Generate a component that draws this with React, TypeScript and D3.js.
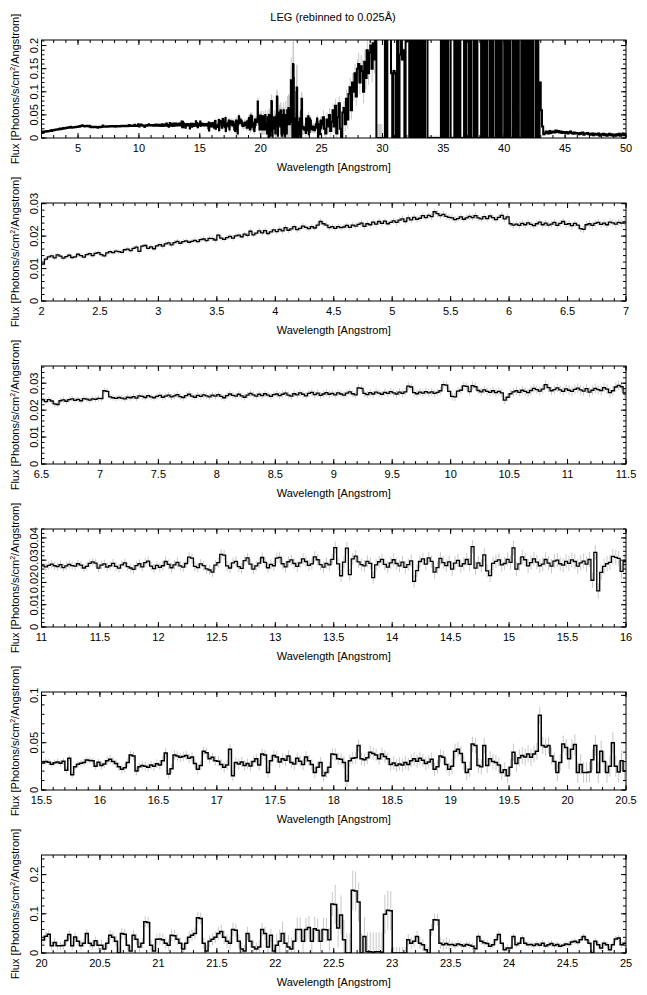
import React from 'react';
import * as d3 from 'd3';

// flux in 1e-3 photons/s/cm^2/Angstrom, 0.025 A bins
const flux2to7 = [
  11.4, 12.9, 13.6, 13.9, 13.3, 14.2, 13.8, 13.2, 13.7, 14.1, 13.4, 13.6, 14.4, 14.0, 13.5, 14.3, 14.6, 14.0, 14.7, 14.9,
  14.3, 13.9, 14.8, 15.2, 14.9, 15.4, 15.2, 15.0, 15.8, 16.0, 15.5, 16.2, 16.6, 15.3, 16.9, 17.1, 16.2, 16.7, 16.1, 17.0,
  17.4, 16.9, 17.6, 17.9, 17.3, 18.0, 18.4, 17.8, 18.3, 18.5, 18.1, 18.4, 18.7, 18.3, 18.9, 19.1, 18.6, 19.3, 19.2, 18.8,
  20.3, 19.4, 19.0, 19.5, 19.9, 19.4, 20.1, 20.3, 19.8, 20.6, 20.2, 21.5, 20.4, 20.9, 21.6, 21.0, 21.7, 20.8, 21.3, 21.9,
  21.4, 22.1, 21.6, 22.6, 21.8, 22.2, 22.9, 22.0, 22.4, 23.1, 22.7, 22.3, 22.9, 22.5, 23.4, 24.5, 23.8, 23.4, 22.6, 22.9,
  22.4, 22.9, 22.6, 22.8, 23.3, 22.7, 23.4, 23.1, 23.6, 24.0, 23.0, 23.8, 23.5, 24.3, 23.7, 24.5, 23.9, 24.6, 23.8, 24.2,
  24.7, 24.2, 24.9, 25.3, 24.5, 25.6, 25.0, 25.8, 25.2, 25.5, 26.3, 25.7, 26.4, 26.0, 27.5, 26.9, 26.3, 26.7, 26.1, 25.8,
  25.6, 25.1, 25.4, 25.9, 25.2, 25.6, 26.1, 25.7, 26.3, 25.6, 25.3, 26.0, 25.4, 26.2, 25.7, 25.1, 25.8, 26.4, 25.3, 25.9,
  23.8, 23.4, 23.7, 23.3, 23.9, 23.5, 24.1, 23.6, 23.2, 23.8, 24.3, 23.5, 24.0, 23.4, 23.7, 24.2, 23.3, 23.9, 24.5, 23.6,
  23.8, 23.2, 23.9, 23.4, 22.3, 22.1, 23.5, 23.8, 23.3, 23.9, 24.2, 23.6, 24.0, 23.5, 24.3, 24.1, 23.7, 24.2, 24.0, 24.4,
];
const flux7to11 = [
  24.3, 27.2, 27.0, 24.9, 24.6, 24.4, 24.7, 24.5, 24.2, 24.8, 24.6, 25.0, 24.5, 25.3, 25.1, 24.7, 25.4, 24.9, 24.6, 25.1,
  25.5, 24.8, 25.2, 25.6, 24.9, 25.3, 25.8, 25.0, 24.7, 25.4, 25.9, 25.2, 24.8, 25.5, 25.1, 25.7, 25.3, 24.9, 25.6, 25.2,
  25.8, 25.1, 24.6, 25.4, 26.0, 25.5, 25.2, 25.9, 25.3, 24.8, 25.6, 26.2, 25.7, 25.2, 25.9, 25.4, 26.1, 25.6, 25.1, 25.8,
  26.0, 25.4, 25.9, 26.3, 25.6, 25.2, 26.1, 25.7, 26.4, 25.9, 25.3, 26.2, 26.6, 25.8, 26.3, 25.5, 26.0, 26.5, 25.9, 26.2,
  25.7, 26.4, 26.0, 25.6, 26.3, 26.8, 26.1, 25.7, 28.3, 28.1, 26.2, 25.8, 26.5, 26.0, 26.7, 26.3, 25.9, 26.6, 26.2, 26.9,
  26.4, 26.0, 26.7, 26.2, 26.8, 28.9, 28.6, 26.5, 26.1, 26.7, 26.3, 26.9, 26.4, 26.8, 26.2, 26.6, 27.2, 29.5, 29.3, 27.0,
  25.1, 24.9, 27.1, 27.4, 29.0, 28.8, 26.9, 29.1, 28.7, 27.3, 26.8, 27.5, 27.0, 26.6, 27.2, 26.5, 27.0, 26.4, 23.7, 24.8,
  26.1, 26.8, 27.2, 26.6, 27.4, 27.0, 26.5, 27.3, 28.1, 27.6, 27.1, 27.8, 29.5, 28.4, 27.2, 27.6, 28.3, 27.5, 27.0, 27.9,
  27.4, 27.0, 27.7, 28.2, 27.5, 27.1, 28.0, 26.7, 27.4, 28.1, 27.6, 27.3, 28.4, 27.8, 26.5, 27.2, 28.6, 29.2, 28.7, 26.4,
];
const flux11to16 = [
  27.8, 28.3, 26.9, 27.5, 28.6, 27.2, 26.4, 27.9, 28.8, 27.1, 26.5, 25.9, 27.6, 28.4, 27.0, 28.9, 29.6, 27.3, 26.2, 27.7,
  26.8, 27.5, 29.4, 28.1, 26.6, 27.9, 29.0, 27.4, 26.9, 28.5, 31.4, 30.9, 27.2, 26.7, 28.3, 27.6, 26.1, 25.6, 24.6, 27.8,
  28.9, 32.6, 32.3, 27.4, 26.5, 28.8, 29.5, 27.1, 26.3, 29.8, 31.0, 28.2, 26.0, 27.4, 28.7, 31.2, 29.0, 26.6, 28.1, 27.5,
  30.9, 31.3, 28.4, 27.0, 29.3, 30.1, 28.5, 27.2, 28.8, 30.6, 29.4, 27.7, 28.3, 31.5, 30.2, 28.0, 26.9, 28.6, 27.9, 30.4,
  35.6, 28.3, 23.0, 29.1, 35.4, 23.5, 30.6, 31.8, 29.2, 28.0, 27.4, 29.5, 28.6, 22.2, 27.9, 29.3, 30.4, 28.1, 26.9, 28.8,
  30.2, 28.5, 27.4, 29.1, 26.8, 28.0, 29.7, 20.5, 25.3, 29.4, 30.6, 28.2, 31.0, 29.5, 24.6, 26.7, 30.8, 28.9, 27.6, 29.2,
  26.0, 28.7, 29.9, 27.3, 28.4, 30.3, 28.1, 36.1, 26.4, 28.8, 27.5, 32.4, 25.2, 23.1, 28.6, 29.5, 30.1, 27.9, 28.5, 30.4,
  29.0, 35.5, 26.0, 28.3, 31.5, 30.2, 27.4, 28.9, 30.6, 29.1, 27.5, 28.2, 30.3, 28.7, 27.3, 29.6, 30.0, 28.4, 27.8, 29.5,
  28.6, 30.1, 29.4, 27.3, 28.8, 29.6, 28.2, 30.3, 21.0, 33.5, 16.2, 24.5, 27.2, 28.4, 29.0, 31.7, 31.3, 30.8, 25.0, 29.4,
];
const flux16to20 = [
  26.0, 27.5, 31.0, 32.5, 30.2, 28.0, 24.5, 22.0, 23.5, 29.0, 37.0, 36.0, 20.0, 24.5, 26.0, 25.2, 24.0, 26.5, 25.0, 27.8,
  26.5, 31.0, 39.0, 17.0, 22.5, 37.0, 36.0, 34.5, 35.5, 36.5, 33.5, 35.0, 28.0, 22.0, 26.0, 41.0, 39.5, 33.0, 34.5, 31.0,
  30.5, 27.0, 24.0, 26.5, 43.0, 15.0, 29.0, 27.5, 29.5, 26.0, 28.0, 25.5, 30.0, 33.0, 26.5, 38.0, 37.0, 18.5, 31.0, 36.5,
  35.0, 29.5, 33.0, 31.5, 36.0, 29.0, 27.5, 33.5, 30.5, 27.0, 35.0, 31.0, 27.0, 18.5, 24.0, 29.0, 15.0, 18.5, 24.0, 38.0,
  37.5, 33.0, 32.5, 29.0, 9.6, 31.0, 33.5, 34.0, 47.0, 33.0, 32.0, 34.0, 40.0, 38.5, 37.0, 33.0, 38.0, 35.5, 33.0, 27.0,
  28.5, 26.0, 27.5, 26.5, 29.0, 27.0, 31.0, 33.0, 30.5, 33.5, 31.5, 28.0, 29.5, 32.5, 22.0, 24.5, 36.0, 34.5, 27.0, 22.0,
  25.0, 41.0, 43.0, 38.5, 29.0, 18.5, 22.0, 48.5, 47.0, 26.0, 24.5, 47.0, 26.0, 33.0, 30.0, 29.0, 26.5, 18.5, 21.5, 15.0,
  24.0, 40.0, 28.0, 34.0, 36.5, 35.0, 38.0, 34.5, 38.0, 41.0, 79.0, 47.0, 45.5, 47.0, 36.0, 30.0, 18.5, 29.0, 48.5, 45.0,
  33.0, 43.0, 48.0, 18.5, 27.0, 18.5, 18.5, 19.0, 32.0, 47.0, 18.5, 41.0, 30.0, 18.5, 25.0, 50.0, 25.0, 19.0, 31.0, 20.0,
];
const flux20to25 = [
  20, 10, 25, 45, 40, 30, 0, 50, 48, 20, 5, 45, 35, 15, 25, 80, 78, 20, 5, 35,
  36, 34, 25, 20, 45, 44, 35, 25, 10, 25, 40, 45, 50, 90, 88, 25, 5, 30, 35, 40,
  50, 55, 40, 30, 25, 60, 58, 30, 10, 5, 50, 30, 15, 10, 15, 60, 50, 15, 45, 5,
  20, 30, 50, 25, 15, 10, 30, 60, 60, 30, 60, 65, 30, 62, 58, 30, 60, 59, 34, 125,
  124, 64, 97, 34, 0, 0, 160, 158, 130, 0, 42, 3, 3, 2, 3, 3, 2, 99, 109, 108,
  0, 0, 0, 0, 0, 34, 25, 30, 42, 25, 21, 8, 0, 59, 85, 84, 25, 21, 24, 21,
  22, 19, 23, 21, 18, 22, 20, 17, 11, 42, 30, 26, 24, 17, 21, 34, 47, 25, 8, 13,
  13, 42, 21, 25, 38, 25, 21, 22, 19, 23, 20, 25, 18, 21, 24, 19, 22, 17, 20, 23,
  22, 28, 30, 27, 34, 42, 34, 25, 0, 30, 21, 13, 25, 21, 8, 21, 36, 38, 21, 25,
];
// long-wavelength part, 0.1 A bins (only shown in the overview)
const flux25to50 = [
  30, 45, 20, 10, 40, 25, 50, 15, 35, 60,
  25, 70, 10, 45, 75, 20, 0, 55, 65, 30,
  85, 40, 95, 110, 60, 120, 100, 140, 90, 150,
  160, 120, 155, 145, 100, 165, 130, 190, 140, 185,
  200, 150, 205, 170, 400, 0, 0, 0, 0, 0,
  0, 0, 400, 0, 400, 300, 400, 140, 0, 145,
  140, 0, 400, 0, 180, 400, 170, 190, 0, 400,
  210, 400, 0, 400, 0, 400, 0, 400, 0, 400,
  0, 400, 0, 400, 0, 400, 400, 0, 0, 0,
  0, 0, 0, 0, 0, 0, 0, 0, 400, 0,
  400, 0, 400, 0, 400, 400, 0, 0, 0, 400,
  0, 400, 0, 400, 0, 0, 0, 400, 0, 400,
  400, 0, 400, 0, 0, 400, 0, 400, 0, 0,
  0, 400, 0, 400, 0, 400, 0, 0, 400, 0,
  400, 0, 0, 400, 0, 400, 0, 400, 0, 0,
  400, 0, 400, 0, 400, 0, 0, 400, 0, 400,
  0, 400, 0, 0, 400, 0, 400, 0, 400, 0,
  400, 0, 400, 0, 400, 400, 0, 400, 0, 120,
  60, 25, 8, 10, 14, 12, 10, 15, 11, 13,
  14, 12, 16, 13, 15, 12, 14, 11, 13, 12,
  11, 13, 10, 12, 14, 11, 9, 12, 10, 11,
  10, 8, 11, 9, 12, 7, 10, 9, 11, 8,
  9, 7, 10, 6, 9, 8, 7, 10, 5, 8,
  7, 9, 6, 8, 5, 7, 9, 6, 8, 5,
  7, 5, 8, 6, 9, 5, 7, 10, 6, 8,
];
// error per 0.5 A segment (2-25 A) and per 1 A segment (25-50 A), 1e-3 units
const err2to25 = [
  0.7, 0.7, 0.8, 0.8, 0.9, 0.9, 1.0, 1.0, 1.0, 1.1, 1.1, 1.2,
  1.2, 1.3, 1.3, 1.4, 1.5, 1.6, 1.8, 2.0, 2.2, 2.3,
  2.5, 2.7, 2.8, 3.0, 3.2, 3.4, 4.5, 5, 5.5, 6,
  6.5, 7, 8, 9, 11, 14, 15, 17, 30, 50, 15, 9, 8, 8,
];
const err25to50 = [15, 15, 20, 25, 30, 5, 5, 5, 5, 5, 5, 5, 5, 5, 5, 5, 5, 5, 4, 3, 3, 3, 3, 3, 3];

const panels = [
  { lo: 2, hi: 50, yMax: 0.212, xMajor: 5, xMinor: 1, yMajor: 0.05, yMinor: 0.01, top: 40, bottom: 138 },
  { lo: 2, hi: 7, yMax: 0.0302, xMajor: 0.5, xMinor: 0.1, yMajor: 0.01, yMinor: 0.002, top: 203, bottom: 301 },
  { lo: 6.5, hi: 11.5, yMax: 0.0364, xMajor: 0.5, xMinor: 0.1, yMajor: 0.01, yMinor: 0.002, top: 366, bottom: 464 },
  { lo: 11, hi: 16, yMax: 0.044, xMajor: 0.5, xMinor: 0.1, yMajor: 0.01, yMinor: 0.002, top: 529, bottom: 627 },
  { lo: 15.5, hi: 20.5, yMax: 0.1036, xMajor: 0.5, xMinor: 0.1, yMajor: 0.05, yMinor: 0.01, top: 692, bottom: 790 },
  { lo: 20, hi: 25, yMax: 0.25, xMajor: 0.5, xMinor: 0.1, yMajor: 0.1, yMinor: 0.02, top: 855, bottom: 953 },
];

const LEFT = 41.5;
const RIGHT = 626;
const FONT = 'Liberation Sans, Arial, Helvetica, sans-serif';

type Bin = { lo: number; hi: number; y: number; e: number };

const inner = [...flux2to7, ...flux7to11, ...flux11to16, ...flux16to20, ...flux20to25];
const bins: Bin[] = [];
inner.forEach((v, i) =>
  bins.push({ lo: (80 + i) / 40, hi: (81 + i) / 40, y: v / 1000, e: err2to25[Math.floor(i / 20)] / 1000 })
);
flux25to50.forEach((v, i) =>
  bins.push({ lo: (250 + i) / 10, hi: (251 + i) / 10, y: v / 1000, e: err25to50[Math.floor(i / 10)] / 1000 })
);

const tickVals = (lo: number, hi: number, step: number) => {
  const out: number[] = [];
  for (let k = Math.ceil(lo / step - 1e-6); k <= Math.floor(hi / step + 1e-6); k++) out.push(+(k * step).toFixed(6));
  return out;
};
const fmt = (v: number) => String(+v.toFixed(6));

function Panel({ p, idx }: { p: (typeof panels)[number]; idx: number }) {
  const x = d3.scaleLinear().domain([p.lo, p.hi]).range([LEFT, RIGHT]);
  const y = d3.scaleLinear().domain([0, p.yMax]).range([p.bottom, p.top]);
  const sel = bins.filter((b) => b.lo >= p.lo - 1e-6 && b.hi <= p.hi + 1e-6);
  const pts: [number, number][] = [];
  sel.forEach((b) => {
    pts.push([b.lo, b.y], [b.hi, b.y]);
  });
  const line = d3
    .line<[number, number]>()
    .x((d) => x(d[0]))
    .y((d) => y(d[1]));
  const clipId = `clip${idx}`;
  const xMaj = tickVals(p.lo, p.hi, p.xMajor);
  const xMin = tickVals(p.lo, p.hi, p.xMinor);
  const yMaj = tickVals(0, p.yMax, p.yMajor);
  const yMin = tickVals(0, p.yMax, p.yMinor);
  const M = 5;
  const m = 3;
  const midY = (p.top + p.bottom) / 2;
  return (
    <g>
      <defs>
        <clipPath id={clipId}>
          <rect x={LEFT} y={p.top} width={RIGHT - LEFT} height={p.bottom - p.top} />
        </clipPath>
      </defs>
      <g clipPath={`url(#${clipId})`}>
        <g stroke="#c8c8c8" strokeWidth={1}>
          {sel.map((b, i) => {
            const cx = x((b.lo + b.hi) / 2);
            return <line key={i} x1={cx} x2={cx} y1={y(b.y - b.e)} y2={y(b.y + b.e)} />;
          })}
        </g>
        <path
          d={line(pts) ?? ''}
          fill="none"
          stroke="#000"
          strokeWidth={idx === 0 ? 2 : idx >= 4 ? 1.5 : 1.3}
          strokeLinejoin="miter"
        />
      </g>
      <g stroke="#000" strokeWidth={1}>
        {xMin.map((v) => (
          <g key={`xm${v}`}>
            <line x1={x(v)} x2={x(v)} y1={p.bottom} y2={p.bottom - m} />
            <line x1={x(v)} x2={x(v)} y1={p.top} y2={p.top + m} />
          </g>
        ))}
        {xMaj.map((v) => (
          <g key={`xM${v}`}>
            <line x1={x(v)} x2={x(v)} y1={p.bottom} y2={p.bottom - M} />
            <line x1={x(v)} x2={x(v)} y1={p.top} y2={p.top + M} />
          </g>
        ))}
        {yMin.map((v) => (
          <g key={`ym${v}`}>
            <line x1={LEFT} x2={LEFT + m} y1={y(v)} y2={y(v)} />
            <line x1={RIGHT} x2={RIGHT - m} y1={y(v)} y2={y(v)} />
          </g>
        ))}
        {yMaj.map((v) => (
          <g key={`yM${v}`}>
            <line x1={LEFT} x2={LEFT + M} y1={y(v)} y2={y(v)} />
            <line x1={RIGHT} x2={RIGHT - M} y1={y(v)} y2={y(v)} />
          </g>
        ))}
        <rect x={LEFT} y={p.top} width={RIGHT - LEFT} height={p.bottom - p.top} fill="none" />
      </g>
      <g fontFamily={FONT} fontSize={11} fill="#000">
        {xMaj.map((v) => (
          <text key={`xl${v}`} x={x(v)} y={p.bottom + 14} textAnchor="middle">
            {fmt(v)}
          </text>
        ))}
        {yMaj.map((v) => (
          <text key={`yl${v}`} transform={`translate(${LEFT - 4},${y(v)}) rotate(-90)`} textAnchor="middle">
            {fmt(v)}
          </text>
        ))}
        <text x={(LEFT + RIGHT) / 2} y={p.bottom + 33} textAnchor="middle">
          Wavelength [Angstrom]
        </text>
        <text transform={`translate(19,${midY}) rotate(-90)`} textAnchor="middle">
          Flux [Photons/s/cm
          <tspan dy={-4} fontSize={7}>
            2
          </tspan>
          <tspan dy={4}>/Angstrom]</tspan>
        </text>
      </g>
    </g>
  );
}

export default function App() {
  return (
    <svg width={647} height={995} style={{ position: 'absolute', left: 0, top: 0, background: '#fff' }}>
      <rect width={647} height={995} fill="#fff" />
      <text x={333} y={21} textAnchor="middle" fontFamily={FONT} fontSize={11}>
        LEG (rebinned to 0.025Å)
      </text>
      {panels.map((p, i) => (
        <Panel key={i} p={p} idx={i} />
      ))}
    </svg>
  );
}
